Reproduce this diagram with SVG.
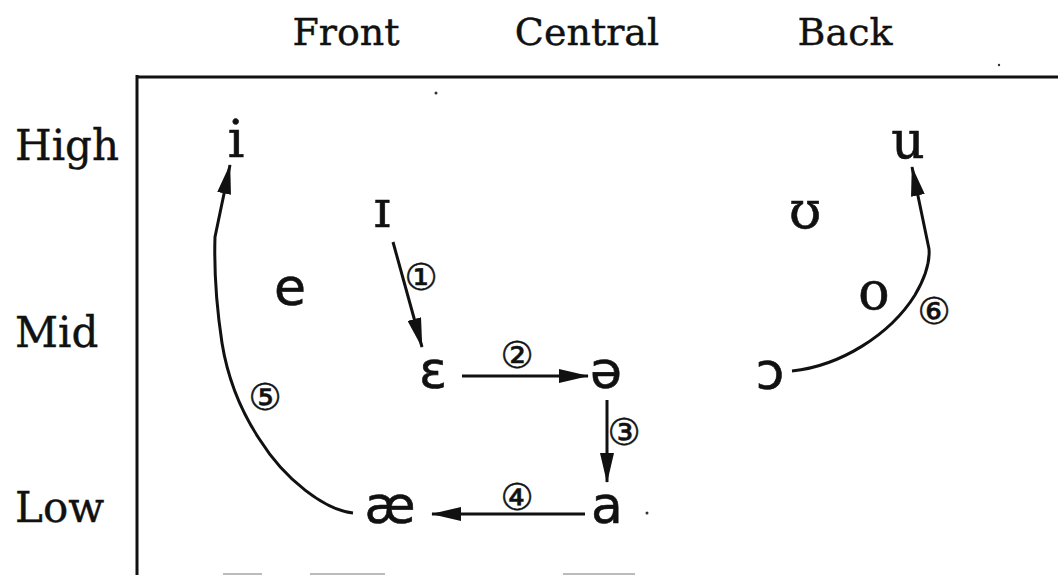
<svg xmlns="http://www.w3.org/2000/svg" width="1058" height="575" viewBox="0 0 1058 575">
<style>
.lbl{font-family:"DejaVu Serif","Liberation Serif",serif;fill:#111;stroke:#111;stroke-width:0.4;}
.top{font-size:38px;text-anchor:middle;}
.side{font-size:42px;}
.vs{font-family:"DejaVu Serif","Liberation Serif",serif;font-size:52px;fill:#111;stroke:#111;stroke-width:0.6;text-anchor:middle;}
.vn{font-family:"DejaVu Sans","Liberation Sans",sans-serif;font-size:52px;fill:#111;stroke:#111;stroke-width:0.6;text-anchor:middle;}
.num{font-family:"DejaVu Sans","Noto Sans",sans-serif;font-size:37px;fill:#111;stroke:#111;stroke-width:0.5;text-anchor:middle;dominant-baseline:central;}
.frame{stroke:#111;stroke-width:3;fill:none;}
.conn{stroke:#111;stroke-width:3;fill:none;marker-end:url(#ah);}
</style>
<defs>
<marker id="ah" viewBox="0 0 30 14" markerWidth="30" markerHeight="14" refX="29" refY="7" orient="auto" markerUnits="userSpaceOnUse">
<path d="M0,0 L30,7 L0,14 z" fill="#111"/>
</marker>
</defs>
<rect width="1058" height="575" fill="#fff"/>
<g id="frame">
<line class="frame" x1="137" y1="77" x2="1058" y2="77"/>
<line class="frame" x1="137" y1="75" x2="137" y2="575"/>
<g stroke="#bbb" stroke-width="2">
<line x1="223" y1="574" x2="262" y2="574"/>
<line x1="310" y1="574" x2="385" y2="574"/>
<line x1="563" y1="574" x2="635" y2="574"/>
</g>
<g fill="#333">
<circle cx="436" cy="93" r="1.5"/>
<circle cx="647" cy="513" r="1.5"/>
<circle cx="999" cy="65" r="1.2"/>
</g>
</g>
<g id="axis-labels">
<text class="lbl top" x="346" y="45">Front</text>
<text class="lbl top" x="587" y="45">Central</text>
<text class="lbl top" x="845" y="45">Back</text>
<text class="lbl side" x="15" y="160">High</text>
<text class="lbl side" x="15" y="347">Mid</text>
<text class="lbl side" x="15" y="522">Low</text>
</g>
<g id="connectors">
<line class="conn" x1="393" y1="242" x2="422" y2="347"/>
<line class="conn" x1="462" y1="376" x2="588" y2="376"/>
<line class="conn" x1="607" y1="400" x2="607" y2="482"/>
<line class="conn" x1="585" y1="514" x2="432" y2="514"/>
<path class="conn" d="M353,513 C325,510 285,480 260,440 C240,410 228,380 222,343 C217,310 214,270 215,237 L230,165"/>
<path class="conn" d="M792,371 C840,366 890,335 915,295 C925,278 930,262 929,249 L912,167"/>
</g>
<g id="labels">
<text class="num" x="421" y="277">①</text>
<text class="num" x="517" y="355">②</text>
<text class="num" x="624" y="432">③</text>
<text class="num" x="517" y="497">④</text>
<text class="num" x="265" y="397">⑤</text>
<text class="num" x="934" y="311">⑥</text>
</g>
<g id="v-i"><text class="vs" x="236" y="157">i</text></g>
<g id="v-I"><text class="vs" x="382" y="227">ɪ</text></g>
<g id="v-e"><text class="vn" x="290" y="305">e</text></g>
<g id="v-E"><text class="vn" x="433" y="388">ɛ</text></g>
<g id="v-schwa"><text class="vn" x="606" y="388">ə</text></g>
<g id="v-a"><text class="vn" x="607" y="523">a</text></g>
<g id="v-ae"><text class="vn" x="390" y="523">æ</text></g>
<g id="v-U"><text class="vs" x="805" y="228">ʊ</text></g>
<g id="v-u"><text class="vs" x="908" y="158">u</text></g>
<g id="v-o"><text class="vs" x="874" y="309">o</text></g>
<g id="v-open-o"><text class="vn" x="770" y="389">ɔ</text></g>
</svg>
